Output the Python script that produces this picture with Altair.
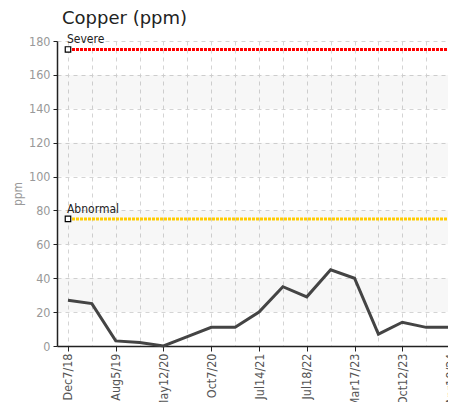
import altair as alt
import pandas as pd

# ---- data ----
sample_index = list(range(17))
tick_labels = ["Dec7/18", "Aug5/19", "May12/20", "Oct7/20", "Jul14/21",
               "Jul18/22", "Mar17/23", "Oct12/23", "Apr18/24"]
copper = [27, 25, 3, 2, 0, 5.5, 11, 11, 20, 35, 29, 45, 40, 7, 14, 11, 11]
limit_names = ["Severe", "Abnormal"]
limit_values = [175, 75]
limit_colors = ["#ff0000", "#ffcc00"]
band_low = [20, 60, 100, 140]
band_high = [40, 80, 120, 160]
y_ticks = [0, 20, 40, 60, 80, 100, 120, 140, 160, 180]

df = pd.DataFrame({"i": sample_index, "v": copper})
limits = pd.DataFrame({"name": limit_names, "y": limit_values, "color": limit_colors,
                       "x0": [sample_index[0]] * 2, "x1": [sample_index[-1]] * 2})
bands = pd.DataFrame({"lo": band_low, "hi": band_high})

FONT = "DejaVu Sans Condensed, sans-serif"

xscale = alt.Scale(domain=[-0.46, 16.04], nice=False, zero=False)
yscale = alt.Scale(domain=[0, 180], nice=False)

label_arr = "[" + ",".join("'%s'" % s for s in tick_labels) + "]"

band_layer = alt.Chart(bands).mark_rect(color="#000", opacity=0.03).encode(
    y=alt.Y("lo:Q", scale=yscale, axis=None),
    y2="hi:Q",
)

grid_layer = alt.Chart(df).mark_point(opacity=0).encode(
    x=alt.X("i:Q", scale=xscale, axis=alt.Axis(values=sample_index, grid=True, labels=False,
                                                ticks=False, domain=False, title=None,
                                                orient="bottom",
                                                gridDash=[4, 4], gridColor="#d4d4d4")),
    y=alt.Y("v:Q", scale=yscale,
            axis=alt.Axis(values=y_ticks, grid=True, gridDash=[4, 4], gridColor="#d4d4d4",
                          labels=False, ticks=False, domain=False, title=None,
                          orient="left")),
)

rule_layer = alt.Chart(limits).mark_rule(strokeWidth=3, strokeDash=[3, 1]).encode(
    x=alt.X("x0:Q", scale=xscale, axis=None),
    x2="x1:Q",
    y=alt.Y("y:Q", scale=yscale, axis=None),
    color=alt.Color("color:N", scale=None),
)

line_layer = alt.Chart(df).mark_line(color="#444444", strokeWidth=3).encode(
    x=alt.X("i:Q", scale=xscale,
            axis=alt.Axis(values=sample_index[::2], grid=False, title=None, orient="bottom",
                          labelExpr=label_arr + "[datum.value/2]",
                          labelAngle=-90, labelFont=FONT, labelFontSize=12.5,
                          labelColor="#555", tickColor="#222", tickSize=5,
                          domainColor="#222", domainWidth=1.5, labelPadding=2)),
    y=alt.Y("v:Q", scale=yscale,
            axis=alt.Axis(values=y_ticks, grid=False, orient="left",
                          title="ppm", titleFont=FONT, titleFontSize=12,
                          titleFontWeight="normal", titleColor="#999", titlePadding=4,
                          labelFont=FONT, labelFontSize=12.5, labelColor="#999",
                          tickColor="#222", tickSize=4, domainColor="#222",
                          domainWidth=1.5, labelPadding=3)),
)

square_layer = alt.Chart(limits).mark_square(size=30, fill="white", stroke="#000",
                                             strokeWidth=1.2, opacity=1).encode(
    x=alt.X("x0:Q", scale=xscale, axis=None),
    y=alt.Y("y:Q", scale=yscale, axis=None),
)

text_layer = alt.Chart(limits).mark_text(align="left", baseline="bottom", dy=-3, dx=-1,
                                         font=FONT, fontSize=12, color="#222").encode(
    x=alt.X("x0:Q", scale=xscale, axis=None),
    y=alt.Y("y:Q", scale=yscale, axis=None),
    text="name:N",
)

chart = alt.layer(band_layer, grid_layer, rule_layer, line_layer, square_layer, text_layer).resolve_axis(
    x="independent", y="independent"
).properties(
    width=394,
    height=305,
    title=alt.TitleParams("Copper (ppm)", anchor="start", frame="group", fontSize=18,
                          font="DejaVu Sans", fontWeight="normal", color="#222",
                          dx=5, offset=5),
    autosize=alt.AutoSizeParams(type="none"),
    padding={"left": 49, "top": 33, "right": -3, "bottom": 56},
).configure_view(stroke=None)

chart.save("out.html", embed_options={"renderer": "svg", "actions": False})
